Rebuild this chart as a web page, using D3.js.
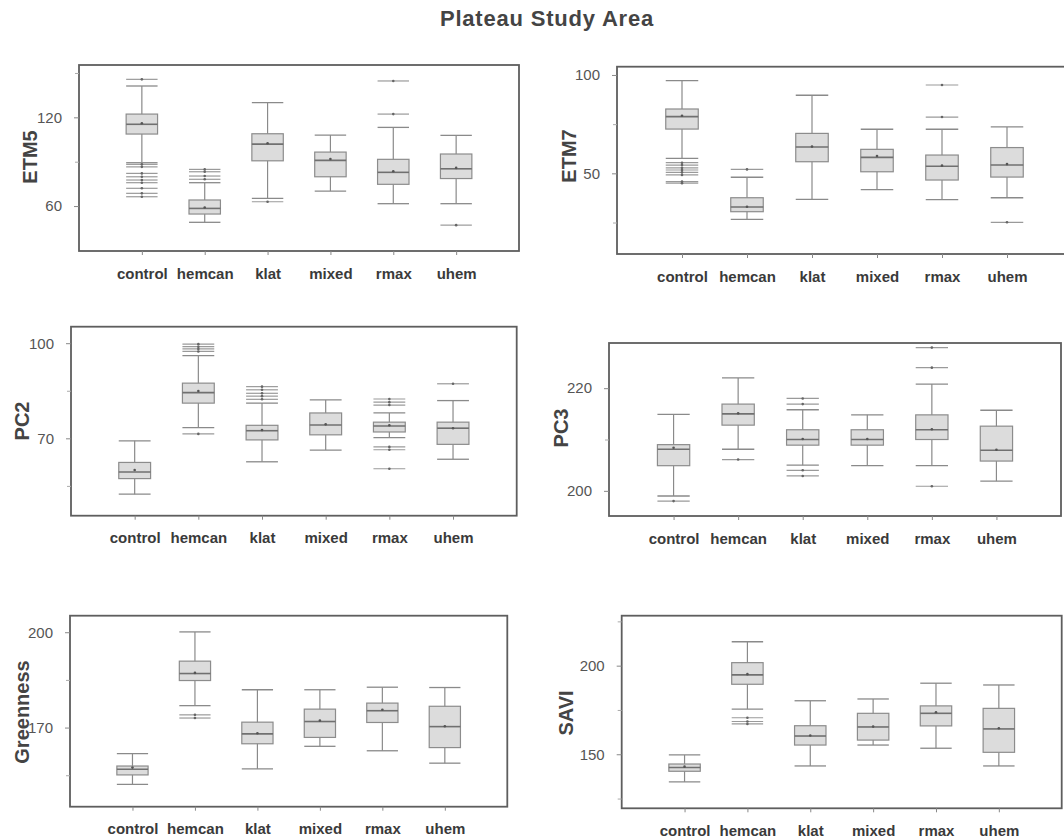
<!DOCTYPE html>
<html>
<head>
<meta charset="utf-8">
<script src="https://cdn.jsdelivr.net/npm/d3@7"></script>
<style>
  body { margin: 0; background: #fff; }
  svg { display: block; font-family: "Liberation Sans", Arial, Helvetica, sans-serif; }
  .title { font-size: 22px; font-weight: bold; fill: #444; letter-spacing: 0.8px; }
  .ytitle { font-size: 20px; font-weight: bold; fill: #444; }
  .ylab { font-size: 15px; fill: #555; }
  .xlab { font-size: 15px; font-weight: bold; fill: #3a3a3a; }
</style>
</head>
<body>
<div id="chart"></div>
<script>

// group names, same for every panel
var groups = ["control", "hemcan", "klat", "mixed", "rmax", "uhem"];

// each box row: [lower whisker, q1, median, q3, upper whisker]
var etm5Box = [[89.3, 108.7, 115.3, 122.2, 141.2], [49, 54.6, 58.4, 64.1, 75.8], [65.2, 90.6, 101.9, 108.9, 129.9],
               [70.1, 79.8, 90.9, 96.5, 108], [61.6, 74.7, 82.8, 91.6, 113.2], [61.6, 78.6, 85.2, 95.2, 107.8]];
var etm5Mean = [116, 59, 102.5, 91.8, 83.5, 85.8];
var etm5Out = [[145.7, 88.2, 86.5, 82.1, 79.8, 77.6, 75.8, 72, 68.6, 66.3], [78.1, 80.3, 83.2, 84.8], [62.9], [], [122.2, 144.6], [47.1]];

var etm7Box = [[57.6, 72.5, 78.8, 82.7, 97.1], [26.6, 30.5, 32.9, 37.6, 48], [36.8, 55.9, 63.4, 70.3, 89.7],
               [41.7, 50.8, 58.1, 62.2, 72.4], [36.6, 46.6, 53.6, 59.3, 72.4], [37.6, 48.1, 54.2, 63.1, 73.6]];
var etm7Mean = [79.3, 33, 63.6, 58.8, 53.9, 54.7];
var etm7Out = [[55.4, 54.2, 52.8, 51.7, 50.5, 49.2, 45.8, 45], [52], [], [], [78.6, 94.9], [25.1]];

var pc2Box = [[52.4, 57.3, 59.4, 62.4, 69.2], [73.4, 81.1, 84.4, 87.4, 96.1], [62.6, 69.5, 72.4, 74.1, 81.1],
              [66.3, 71.1, 74.2, 78, 82.1], [70.2, 72, 73.9, 75.1, 78], [63.4, 68.1, 73.2, 75.1, 81.9]];
var pc2Mean = [60, 84.9, 72.6, 74.4, 74.1, 73.2];
var pc2Out = [[], [71.4, 97.4, 98.2, 98.9, 99.7], [82.3, 83.3, 84.2, 85.3, 86.3], [], [80.5, 81.4, 82.4, 67.3, 66.4, 60.4], [87.2]];

var pc3Box = [[199, 204.9, 208.1, 209, 214.9], [208.1, 212.8, 215, 216.9, 222], [205, 208.9, 210, 211.9, 215.8],
              [204.9, 208.9, 210, 211.9, 214.8], [204.9, 210, 211.9, 214.8, 220.8], [201.9, 205.8, 207.9, 212.6, 215.7]];
var pc3Mean = [208.4, 215.1, 210.1, 210.1, 212, 208];
var pc3Out = [[198], [206.1], [216.9, 218, 204, 202.9], [], [224, 227.9, 200.9], []];

var greenBox = [[152.1, 155.1, 156.9, 157.9, 161.8], [176.9, 184.8, 187, 190.9, 200.1], [157, 164.9, 168, 171.7, 181.9],
                [164.1, 166.9, 171.9, 175.8, 181.9], [162.7, 171.6, 175.3, 177.7, 182.7], [158.8, 163.7, 170.3, 176.7, 182.6]];
var greenMean = [157.4, 187.2, 168.2, 172.2, 175.6, 170.4];
var greenOut = [[], [174, 173], [], [], [], []];

var saviBox = [[134.4, 140.4, 142.5, 144.5, 149.6], [175.5, 189.5, 194.8, 201.7, 213.5], [143.4, 155.2, 160.3, 166.1, 180.2],
               [155.2, 158, 165.4, 173.1, 181.2], [153.4, 166, 173.1, 177.3, 190.1], [143.4, 151.1, 164.3, 175.9, 189.1]];
var saviMean = [143, 195.2, 160.6, 165.6, 173.7, 164.7];
var saviOut = [[], [170.6, 168.5, 167.1], [], [], [], []];

// y tick labels (major) and small unlabeled ticks
var etm5Ticks = [60, 120],   etm5Minor = [90, 150];
var etm7Ticks = [50, 100],   etm7Minor = [25, 75];
var pc2Ticks = [70, 100],    pc2Minor = [55, 85];
var pc3Ticks = [200, 220],   pc3Minor = [210];
var greenTicks = [170, 200], greenMinor = [155, 185];
var saviTicks = [150, 200],  saviMinor = [125, 175, 225];

/**
 * One framed boxplot panel.
 */
function BoxPanel(svg, opts){
    var self = this;
    self.svg = svg;
    self.opts = opts;
    self.draw();
}

BoxPanel.prototype.draw = function(){
    var self = this;
    var o = self.opts;
    var f = o.frame; // left, top, right, bottom
    var g = self.svg.append("g");

    var x = d3.scalePoint().domain(groups).range([f[0], f[2]]).padding(1);
    var y = d3.scaleLinear().domain(o.domain).range([f[3], f[1]]);
    var bw = x.step() * 0.5;

    //frame
    g.append("rect")
        .attr("x", f[0]).attr("y", f[1])
        .attr("width", f[2] - f[0]).attr("height", f[3] - f[1])
        .attr("fill", "none").attr("stroke", "#5e5e5e").attr("stroke-width", 1.8);

    //axes, ticks point outward from the frame
    var yAxis = d3.axisLeft(y).tickValues(o.ticks).tickSize(5).tickPadding(12).tickFormat(d3.format("d"));
    var yg = g.append("g").attr("transform", "translate(" + f[0] + ",0)").call(yAxis);
    yg.select(".domain").remove();
    yg.selectAll("line").attr("stroke", "#888");
    yg.selectAll("text").attr("class", "ylab").attr("font-size", null).attr("font-family", null).attr("fill", null);

    var mg = g.append("g").attr("transform", "translate(" + f[0] + ",0)")
        .call(d3.axisLeft(y).tickValues(o.minor).tickSize(4).tickFormat(""));
    mg.select(".domain").remove();
    mg.selectAll("line").attr("stroke", "#aaa");

    var xAxis = d3.axisBottom(x).tickSize(4).tickPadding(13);
    var xg = g.append("g").attr("transform", "translate(0," + f[3] + ")").call(xAxis);
    xg.select(".domain").remove();
    xg.selectAll("line").attr("stroke", "#888");
    xg.selectAll("text").attr("class", "xlab").attr("font-size", null).attr("font-family", null).attr("fill", null);

    //axis title
    g.append("text")
        .attr("class", "ytitle")
        .attr("transform", "translate(" + o.titlePos[0] + "," + o.titlePos[1] + ") rotate(-90)")
        .attr("text-anchor", "middle")
        .attr("dominant-baseline", "central")
        .text(o.name);

    var rows = groups.map(function(name, i){
        return {name: name, s: o.box[i], mean: o.mean[i], out: o.out[i]};
    });

    var box = g.selectAll(".bx").data(rows).enter().append("g").attr("class", "bx");

    //whisker stems
    box.append("line")
        .attr("x1", function(d){ return x(d.name); }).attr("x2", function(d){ return x(d.name); })
        .attr("y1", function(d){ return y(d.s[0]); }).attr("y2", function(d){ return y(d.s[4]); })
        .attr("stroke", "#8a8a8a").attr("stroke-width", 1.2);

    //whisker caps
    [0, 4].forEach(function(k){
        box.append("line")
            .attr("x1", function(d){ return x(d.name) - bw/2; }).attr("x2", function(d){ return x(d.name) + bw/2; })
            .attr("y1", function(d){ return y(d.s[k]); }).attr("y2", function(d){ return y(d.s[k]); })
            .attr("stroke", "#8a8a8a").attr("stroke-width", 1.3);
    });

    box.append("rect")
        .attr("x", function(d){ return x(d.name) - bw/2; })
        .attr("y", function(d){ return y(d.s[3]); })
        .attr("width", bw)
        .attr("height", function(d){ return y(d.s[1]) - y(d.s[3]); })
        .attr("fill", "#dcdcdc").attr("stroke", "#8c8c8c").attr("stroke-width", 1.2);

    //median
    box.append("line")
        .attr("x1", function(d){ return x(d.name) - bw/2; }).attr("x2", function(d){ return x(d.name) + bw/2; })
        .attr("y1", function(d){ return y(d.s[2]); }).attr("y2", function(d){ return y(d.s[2]); })
        .attr("stroke", "#707070").attr("stroke-width", 1.6);

    //mean
    box.append("circle")
        .attr("cx", function(d){ return x(d.name); })
        .attr("cy", function(d){ return y(d.mean); })
        .attr("r", 1.3).attr("fill", "#555");

    //outliers drawn as short lines with a dot
    var outs = box.selectAll(".o").data(function(d){
        return d.out.map(function(v){ return {name: d.name, v: v}; });
    }).enter().append("g").attr("class", "o");

    outs.append("line")
        .attr("x1", function(d){ return x(d.name) - bw/2; }).attr("x2", function(d){ return x(d.name) + bw/2; })
        .attr("y1", function(d){ return y(d.v); }).attr("y2", function(d){ return y(d.v); })
        .attr("stroke", "#9a9a9a").attr("stroke-width", 1.2);
    outs.append("circle")
        .attr("cx", function(d){ return x(d.name); })
        .attr("cy", function(d){ return y(d.v); })
        .attr("r", 1.3).attr("fill", "#666");
};

var svg = d3.select("#chart").append("svg").attr("width", 1064).attr("height", 839);

svg.append("text").attr("class", "title")
    .attr("x", 547).attr("y", 26).attr("text-anchor", "middle")
    .text("Plateau Study Area");

new BoxPanel(svg, {name: "ETM5", box: etm5Box, mean: etm5Mean, out: etm5Out, ticks: etm5Ticks, minor: etm5Minor,
    domain: [29.6, 155.4], frame: [79, 65, 519, 251], titlePos: [30, 157]});
new BoxPanel(svg, {name: "ETM7", box: etm7Box, mean: etm7Mean, out: etm7Out, ticks: etm7Ticks, minor: etm7Minor,
    domain: [9, 104.2], frame: [617, 66.7, 1072, 254], titlePos: [569, 156]});
new BoxPanel(svg, {name: "PC2", box: pc2Box, mean: pc2Mean, out: pc2Out, ticks: pc2Ticks, minor: pc2Minor,
    domain: [45.6, 105.2], frame: [71, 326.7, 516.7, 515.7], titlePos: [21.5, 421]});
new BoxPanel(svg, {name: "PC3", box: pc3Box, mean: pc3Mean, out: pc3Out, ticks: pc3Ticks, minor: pc3Minor,
    domain: [195.1, 228.8], frame: [609, 343, 1061, 516], titlePos: [561, 428]});
new BoxPanel(svg, {name: "Greenness", box: greenBox, mean: greenMean, out: greenOut, ticks: greenTicks, minor: greenMinor,
    domain: [145.1, 205.2], frame: [70, 615.7, 507.3, 806.7], titlePos: [21.5, 712]});
new BoxPanel(svg, {name: "SAVI", box: saviBox, mean: saviMean, out: saviOut, ticks: saviTicks, minor: saviMinor,
    domain: [119.5, 228.2], frame: [621.7, 615.7, 1061.7, 808.3], titlePos: [566, 713]});

</script>
</body>
</html>
